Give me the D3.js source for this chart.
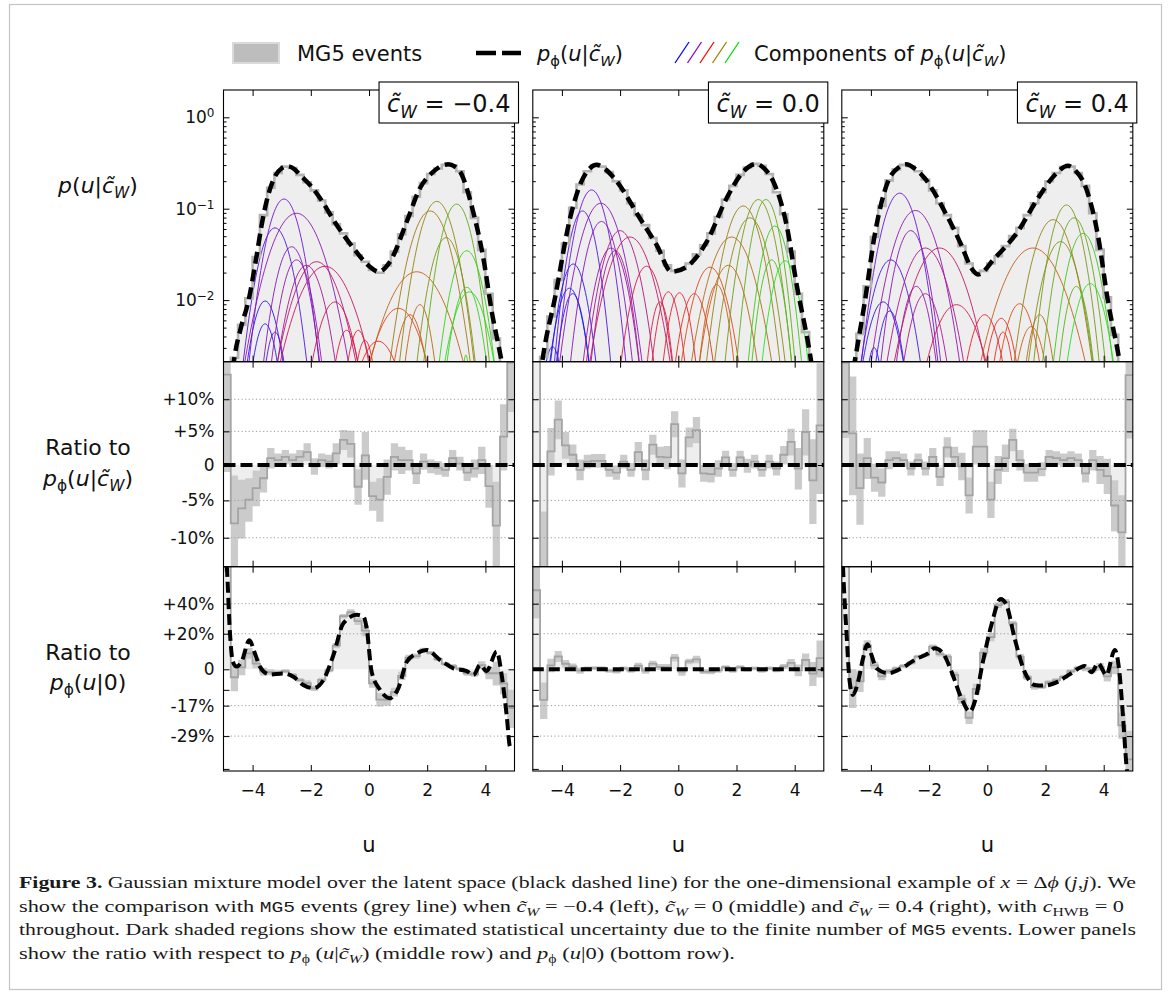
<!DOCTYPE html>
<html><head><meta charset="utf-8">
<script src="https://cdn.jsdelivr.net/npm/d3@7"></script>
<style>
body{margin:0;background:#fff}
svg{display:block}
text{font-family:"DejaVu Sans",sans-serif}
</style></head>
<body><svg id="c" width="1171" height="994"></svg>
<script>
// ---------------- DATA ----------------
const cwLabels = ["−0.4", "0.0", "0.4"];
const xTickValues = [-4, -2, 0, 2, 4];
const xTickLabels = ["−4", "−2", "0", "2", "4"];
const topTickValues = [1, 0.1, 0.01];
const topTickExp = ["0", "−1", "−2"];
const midTickValues = [10, 5, 0, -5, -10];
const midTickLabels = ["+10%", "+5%", "0", "-5%", "-10%"];
const botTickValues = [40, 20, 0, -17, -29];
const botTickLabels = ["+40%", "+20%", "0", "-17%", "-29%"];
const botMinorTicks = [-10, -40];

// model density p_phi(u|c_W): [u, log10 p]
const modelNeg = [[-4.75,-2.95],[-4.62,-2.62],[-4.4,-2.3],[-4.15,-2.02],[-3.86,-1.51],[-3.69,-1.18],[-3.52,-0.92],[-3.29,-0.686],[-3.0,-0.558],[-2.8,-0.535],[-2.55,-0.57],[-2.37,-0.631],[-2.0,-0.75],[-1.68,-0.886],[-1.11,-1.178],[-0.54,-1.43],[0.03,-1.635],[0.32,-1.69],[0.72,-1.58],[1.30,-1.14],[1.75,-0.777],[2.21,-0.595],[2.5,-0.53],[2.73,-0.515],[2.95,-0.54],[3.13,-0.595],[3.58,-1.033],[3.93,-1.543],[4.22,-2.127],[4.56,-2.68],[4.7,-2.95]];
const modelZero = [[-4.75,-2.85],[-4.64,-2.60],[-4.24,-1.98],[-3.72,-1.105],[-3.38,-0.74],[-3.1,-0.58],[-2.80,-0.52],[-2.5,-0.57],[-2.12,-0.70],[-1.32,-1.105],[-0.74,-1.40],[-0.23,-1.69],[0.29,-1.635],[0.98,-1.36],[1.66,-0.886],[2.23,-0.595],[2.69,-0.51],[2.95,-0.56],[3.26,-0.70],[3.72,-1.178],[4.07,-1.835],[4.53,-2.60],[4.65,-2.85]];
const modelPos = [[-4.7,-2.95],[-4.56,-2.68],[-4.21,-2.02],[-3.87,-1.29],[-3.41,-0.70],[-3.05,-0.55],[-2.78,-0.515],[-2.5,-0.56],[-2.15,-0.667],[-1.46,-1.033],[-0.89,-1.40],[-0.55,-1.65],[-0.32,-1.72],[0.25,-1.543],[1.05,-1.25],[1.74,-0.886],[2.32,-0.631],[2.77,-0.53],[3.05,-0.59],[3.35,-0.74],[3.80,-1.29],[4.15,-2.02],[4.55,-2.68],[4.68,-2.95]];

// MG5 histogram, 40 bins of width 0.25 from -5: log10 density
const histNeg = [-3.2,-2.63,-2.27,-1.98,-1.53,-1.07,-0.77,-0.61,-0.54,-0.555,-0.63,-0.71,-0.80,-0.91,-1.04,-1.17,-1.27,-1.38,-1.51,-1.58,-1.67,-1.70,-1.62,-1.47,-1.28,-1.08,-0.87,-0.72,-0.62,-0.56,-0.52,-0.525,-0.59,-0.82,-1.10,-1.45,-1.93,-2.42,-2.90,-3.5];
const histZero = [-3.3,-2.62,-2.18,-1.78,-1.38,-0.99,-0.735,-0.59,-0.525,-0.54,-0.60,-0.70,-0.80,-0.94,-1.07,-1.18,-1.32,-1.46,-1.62,-1.68,-1.66,-1.60,-1.50,-1.40,-1.27,-1.09,-0.90,-0.75,-0.63,-0.55,-0.51,-0.53,-0.62,-0.82,-1.06,-1.47,-1.93,-2.35,-2.80,-3.4];
const histPos = [-3.4,-2.80,-2.37,-1.85,-1.31,-0.97,-0.69,-0.57,-0.52,-0.535,-0.59,-0.68,-0.80,-0.94,-1.07,-1.21,-1.41,-1.60,-1.70,-1.68,-1.60,-1.52,-1.41,-1.30,-1.21,-1.07,-0.94,-0.82,-0.70,-0.61,-0.545,-0.54,-0.61,-0.75,-1.05,-1.45,-1.97,-2.38,-2.90,-3.5];

// ratio MG5 / p_phi(u|c_W) in percent, with statistical uncertainty
const ratioMidNeg = [14,-8.1,-6.1,-4.9,-3.3,-1.9,1.0,0.7,1.2,0.7,1.2,1.9,-0.2,0.7,0.5,1.7,3.7,3.1,-3.1,1.4,-4.4,-4.9,-1.7,1.2,0.7,0.7,-1.2,0.5,-0.2,-0.4,-0.7,1.0,0.2,-1.1,-0.5,0.7,-3.0,-8.4,4.2,16];
const errMidNeg = [15,6.6,4,3,2.5,2,1.5,1,1,1,1,1.3,1.2,1,1,1.5,1.5,2,2.5,3.5,2,3,2.5,2,2,1.5,1.5,1.2,1,1,1,1.2,1,1.2,1.3,2,3,6,5,8];
const ratioMidZero = [50,-14.5,2,6.8,2.9,1.5,-0.7,0.5,0.6,0.6,-0.7,-1.1,0.5,-0.7,1.9,-0.7,3.0,1.2,1.1,6.1,-1.2,4.1,5.2,-1.2,-1.3,-0.5,1.1,-0.7,1.1,-0.1,0.5,-0.7,0.5,-0.5,1.5,3.4,-0.5,4.9,-2.2,5.9];
const errMidZero = [20,8,3.5,3,2,1.5,1.5,1,1,1,1,1,1,1,1.5,1.5,1.5,1.5,1.7,2,2,1.5,2,1.2,1.2,1.2,1,1,1,1,1,1,1,1,1.3,2,3,3.5,6,10];
const ratioMidPos = [16,4.7,-3.3,1.0,-1.8,-2.5,0.7,1.0,0.7,-0.5,0.7,-0.5,1.2,-1.7,2.6,1.2,-0.2,-4.3,2.7,2.7,-4.9,-0.7,1.0,3.7,0.7,-1.1,-1.1,-0.6,1.2,1.0,0.7,1.0,0.7,-1.2,0.7,-0.7,-1.6,-5.7,-9.3,13.9];
const errMidPos = [12,9,5,3,2,2,1.3,1,1,1,1,1,1.3,1.3,1.5,1.5,2,2.5,2.5,2.5,2.5,2,2,1.7,1.5,1.3,1.3,1,1,1,1,1,1,1.3,1.5,2,2.5,3.5,5,10];

// ratio MG5 / p_phi(u|0) in percent
const ratioBotNeg = [80,-4,1,8.5,3,-1.2,-1.5,-1.6,-1,-2.9,-5.4,-6.8,-9.3,-5.3,-0.5,12.9,31.3,34,28,22,-7,-14.4,-14.5,-11,-3.3,6.2,7,10.5,8.8,5.3,2.8,1.6,0.2,-2.1,-2.5,2.2,-2,-2,-7,-18];
const ratioBotZero = [50,-14.5,2,6.8,2.9,1.5,-0.7,0.5,0.6,0.6,-0.7,-1.1,0.5,-0.7,1.9,-0.7,3.0,1.2,1.1,6.1,-1.2,4.1,5.2,-1.2,-1.3,-0.5,1.1,-0.7,1.1,-0.1,0.5,-0.7,0.5,-0.5,1.5,3.4,-0.5,4.9,-2.2,5.9];
const ratioBotPos = [90,-9,-6,13,2,-3.5,-1.1,0.5,1.7,3.3,6.7,7.5,12.3,8.1,6.7,-2.8,-14.2,-22,-9.6,8.9,18,39,41.4,26.5,6.7,-4,-8.7,-8.6,-6.4,-5.4,-3.8,-1,0.7,0.3,-0.3,1.3,-3.6,1,-25,-37];

// p_phi(u|c_W) / p_phi(u|0) in percent: [u, percent]
const curveBotNeg = [[-5,100],[-4.97,90],[-4.89,71],[-4.78,21],[-4.68,4],[-4.55,1.4],[-4.38,4],[-4.11,16],[-3.92,8.5],[-3.75,1.4],[-3.41,-2.6],[-2.95,-2.1],[-2.60,-3.7],[-2.26,-7.7],[-1.91,-9.2],[-1.57,-5.4],[-1.22,7.7],[-0.88,26.6],[-0.42,32.2],[-0.19,31],[-0.08,23.4],[0.09,-1.2],[0.38,-10],[0.72,-13.8],[1.01,-9.2],[1.30,4],[1.64,8.5],[1.98,10.4],[2.44,4.9],[2.90,0.5],[3.36,-0.9],[3.59,-2.9],[3.82,2.2],[4.04,-0.9],[4.39,9.5],[4.56,-2.9],[4.73,-20.9],[4.85,-32.8],[4.96,-32]];
const curveBotZero = [[-5,0],[5,0]];
const curveBotPos = [[-5,100],[-4.96,70],[-4.84,21],[-4.73,-6.1],[-4.62,-12.3],[-4.44,-6.1],[-4.27,5.8],[-4.12,13.7],[-3.98,7.6],[-3.81,0.5],[-3.41,-2.0],[-2.95,0.5],[-2.50,4.9],[-2.04,8.5],[-1.81,11.4],[-1.52,8.5],[-1.23,-1.2],[-0.89,-13.8],[-0.60,-19.5],[-0.43,-15.3],[-0.15,4],[0.14,25.5],[0.46,43.5],[0.66,39],[0.94,17.2],[1.28,-1.2],[1.63,-7.7],[1.97,-8],[2.43,-6.1],[2.89,-2],[3.35,1.7],[3.58,-1.5],[3.81,3.1],[4.09,-2.9],[4.38,10.4],[4.55,-2.9],[4.66,-21],[4.78,-38.8],[4.84,-44],[4.9,-50]];

// Gaussian components: [mean, sigma, log10 peak]
const compsNeg = [[-3.57,0.35,-2.01],[-3.57,0.30,-2.26],[-3.23,0.25,-2.35],[-3.23,0.42,-1.21],[-2.92,0.42,-0.894],[-2.49,0.65,-1.05],[-2.66,0.40,-1.416],[-2.49,0.38,-1.56],[-2.15,0.45,-1.62],[-1.80,0.60,-1.58],[-1.51,0.70,-1.63],[-1.17,0.45,-2.02],[-0.77,0.30,-2.33],[-0.37,0.28,-2.33],[-0.14,0.25,-2.44],[0.32,0.55,-2.45],[1.01,0.60,-2.09],[1.41,0.35,-2.16],[1.75,0.30,-2.05],[1.64,0.75,-1.69],[2.10,0.50,-1.025],[2.65,0.40,-1.317],[2.33,0.45,-0.92],[3.01,0.40,-0.95],[3.36,0.40,-1.46],[3.36,0.35,-1.86],[3.45,0.45,-1.91],[3.33,0.10,-2.60]];
const compsZero = [[-4.32,0.25,-2.51],[-3.74,0.35,-1.87],[-3.63,0.30,-1.93],[-3.61,0.35,-1.605],[-3.29,0.35,-1.025],[-2.98,0.40,-0.795],[-2.66,0.50,-0.94],[-2.64,0.40,-1.14],[-2.31,0.40,-1.43],[-2.17,0.35,-1.46],[-2.00,0.45,-1.24],[-1.66,0.55,-1.31],[-1.09,0.40,-1.63],[-0.63,0.25,-2.02],[-0.34,0.30,-1.91],[0.04,0.30,-1.92],[0.55,0.35,-1.93],[1.09,0.45,-1.64],[1.32,0.30,-1.83],[1.72,0.45,-1.62],[1.83,0.55,-1.31],[2.23,0.45,-0.97],[2.46,0.45,-1.10],[2.75,0.40,-0.90],[3.01,0.35,-0.90],[3.32,0.35,-1.19],[3.21,0.30,-1.56],[3.67,0.35,-1.57]];
const compsPos = [[-3.89,0.20,-2.52],[-3.58,0.40,-2.02],[-3.35,0.30,-2.12],[-3.32,0.45,-1.56],[-3.01,0.45,-0.83],[-2.47,0.55,-1.02],[-2.63,0.40,-1.24],[-2.44,0.35,-1.85],[-2.13,0.40,-1.93],[-2.13,0.55,-1.43],[-1.64,0.65,-1.43],[-1.06,0.60,-2.05],[-0.09,0.40,-2.16],[0.48,0.35,-2.20],[0.54,0.25,-2.35],[1.11,0.40,-2.04],[1.51,0.35,-2.29],[1.57,0.75,-1.43],[1.80,0.30,-2.16],[2.26,0.50,-1.12],[2.52,0.45,-1.36],[2.72,0.40,-0.96],[2.98,0.40,-1.10],[3.29,0.40,-1.27],[3.06,0.30,-1.85],[3.54,0.40,-1.82]];

const panels = [
  {label: cwLabels[0], model: modelNeg, hist: histNeg, rMid: ratioMidNeg, eMid: errMidNeg, rBot: ratioBotNeg, curve: curveBotNeg, comps: compsNeg},
  {label: cwLabels[1], model: modelZero, hist: histZero, rMid: ratioMidZero, eMid: errMidZero, rBot: ratioBotZero, curve: curveBotZero, comps: compsZero},
  {label: cwLabels[2], model: modelPos, hist: histPos, rMid: ratioMidPos, eMid: errMidPos, rBot: ratioBotPos, curve: curveBotPos, comps: compsPos}
];

// ---------------- LAYOUT ----------------
const uMin = -5, uMax = 5, binW = 0.25;
const colLeft = [223.5, 532.8, 841.8], pw = 291;
const rows = {top: [90, 361.7], mid: [361.7, 566.7], bot: [566.7, 771]};
const svg = d3.select("#c");
const defs = svg.append("defs");

svg.append("rect").attr("x", 9.5).attr("y", 4.5).attr("width", 1152).attr("height", 985)
  .attr("fill", "none").attr("stroke", "#c4c4c4").attr("stroke-width", 1.2);

const yTop = d3.scaleLog().domain([Math.pow(10, -2.674), Math.pow(10, 0.2987)]).range([rows.top[1], rows.top[0]]);
const yMid = d3.scaleLog().domain([0.8630, 1.1615]).range([rows.mid[1], rows.mid[0]]);
const yBot = d3.scaleLog().domain([0.5936, 1.6925]).range([rows.bot[1], rows.bot[0]]);
const pr = v => 1 + v / 100;

const compColor = d3.scaleLinear()
  .domain([-3.8, -2.9, -1.6, 0.3, 1.3, 2.1, 2.9, 3.6])
  .range(["#1414ff", "#7614d2", "#c81464", "#f01e1e", "#dc5014", "#a07814", "#6ea014", "#1ee61e"])
  .clamp(true);

function math(sel, parts, fs) {
  let cur = 0;
  parts.forEach(p => {
    const st = p[1] || "";
    const ts = sel.append("tspan").text(p[0]);
    if (st.includes("i")) ts.attr("font-style", "italic");
    if (st.includes("b")) ts.attr("font-weight", "bold");
    if (st.includes("m")) ts.attr("font-family", "'Liberation Mono', monospace").attr("font-size", fs * 0.88);
    let shift = 0;
    if (st.includes("s")) { shift = fs * 0.24; ts.attr("font-size", fs * 0.7); }
    if (shift !== cur) { ts.attr("dy", shift - cur); cur = shift; }
  });
  return sel;
}

const minorTop = [];
[0.001, 0.01, 0.1, 1].forEach(dec => d3.range(2, 10).forEach(m => {
  const v = m * dec; if (v > yTop.domain()[0] && v < yTop.domain()[1]) minorTop.push(v);
}));

function styleAxis(g, fs) {
  g.select(".domain").remove();
  g.attr("font-size", fs).attr("font-family", "'DejaVu Sans', sans-serif");
  g.selectAll("line").attr("stroke", "#000").attr("stroke-width", 1);
  g.selectAll("text").attr("fill", "#111");
}

panels.forEach((P, i) => {
  const x0 = colLeft[i];
  const gx = d3.scaleLinear().domain([uMin, uMax]).range([x0, x0 + pw]);
  Object.keys(rows).forEach(r => {
    defs.append("clipPath").attr("id", `cl-${r}-${i}`).append("rect")
      .attr("x", x0).attr("y", rows[r][0]).attr("width", pw).attr("height", rows[r][1] - rows[r][0]);
  });
  const binPts = arr => { const a = arr.map((v, k) => [uMin + k * binW, v]); a.push([uMax, arr[arr.length - 1]]); return a; };

  // ---------- TOP ROW ----------
  const gt = svg.append("g").attr("clip-path", `url(#cl-top-${i})`);
  const hp = binPts(P.hist);
  gt.append("path").datum(hp)
    .attr("d", d3.area().curve(d3.curveStepAfter).x(d => gx(d[0])).y0(rows.top[1]).y1(d => yTop(Math.pow(10, d[1]))))
    .attr("fill", "#eeeeee");
  P.comps.forEach(c => {
    const pts = d3.range(-4, 4.001, 0.1).map(t => [c[0] + t * c[1], Math.pow(10, c[2]) * Math.exp(-t * t / 2)]);
    gt.append("path").datum(pts)
      .attr("d", d3.line().x(d => gx(d[0])).y(d => yTop(d[1])))
      .attr("fill", "none").attr("stroke", compColor(c[0])).attr("stroke-width", 0.9);
  });
  gt.append("path").datum(hp)
    .attr("d", d3.line().curve(d3.curveStepAfter).x(d => gx(d[0])).y(d => yTop(Math.pow(10, d[1]))))
    .attr("fill", "none").attr("stroke", "#b4b4b4").attr("stroke-width", 2.6);
  gt.append("path").datum(P.model)
    .attr("d", d3.line().curve(d3.curveMonotoneX).x(d => gx(d[0])).y(d => yTop(Math.pow(10, d[1]))))
    .attr("fill", "none").attr("stroke", "#000").attr("stroke-width", 4.5).attr("stroke-dasharray", "12,6");

  // ---------- MIDDLE ROW ----------
  function ratioPanel(rowKey, yS, ratios, errs, gridVals) {
    const g = svg.append("g").attr("clip-path", `url(#cl-${rowKey}-${i})`);
    const rp = binPts(ratios), ep = binPts(errs);
    const pts = rp.map((d, k) => ({u: d[0], v: d[1], e: ep[k][1]}));
    g.append("path").datum(pts)
      .attr("d", d3.area().curve(d3.curveStepAfter).x(d => gx(d.u)).y0(yS(1)).y1(d => yS(pr(d.v))))
      .attr("fill", "#eeeeee");
    g.append("path").datum(pts)
      .attr("d", d3.area().curve(d3.curveStepAfter).x(d => gx(d.u)).y0(d => yS(pr(d.v - d.e))).y1(d => yS(pr(d.v + d.e))))
      .attr("fill", "#cbcbcb");
    g.append("path").datum(pts)
      .attr("d", d3.line().curve(d3.curveStepAfter).x(d => gx(d.u)).y(d => yS(pr(d.v))))
      .attr("fill", "none").attr("stroke", "#a4a4a4").attr("stroke-width", 1.8);
    gridVals.filter(v => v !== 0).forEach(v => {
      g.append("line").attr("x1", x0).attr("x2", x0 + pw).attr("y1", yS(pr(v))).attr("y2", yS(pr(v)))
        .attr("stroke", "#9a9a9a").attr("stroke-width", 1).attr("stroke-dasharray", "1.2,2.4");
    });
    return g;
  }
  const gm = ratioPanel("mid", yMid, P.rMid, P.eMid, midTickValues);
  gm.append("line").attr("x1", x0).attr("x2", x0 + pw).attr("y1", yMid(1)).attr("y2", yMid(1))
    .attr("stroke", "#000").attr("stroke-width", 4).attr("stroke-dasharray", "12,5");

  // ---------- BOTTOM ROW ----------
  const gb = ratioPanel("bot", yBot, P.rBot, P.eMid, botTickValues);
  gb.append("path").datum(P.curve)
    .attr("d", d3.line().curve(d3.curveMonotoneX).x(d => gx(d[0])).y(d => yBot(pr(d[1]))))
    .attr("fill", "none").attr("stroke", "#000").attr("stroke-width", 4).attr("stroke-dasharray", "11,5");

  // ---------- FRAMES & AXES ----------
  Object.keys(rows).forEach(r => {
    svg.append("rect").attr("x", x0).attr("y", rows[r][0]).attr("width", pw).attr("height", rows[r][1] - rows[r][0])
      .attr("fill", "none").attr("stroke", "#000").attr("stroke-width", 1.1);
    svg.append("g").attr("transform", `translate(0,${rows[r][0]})`)
      .call(d3.axisTop(gx).tickValues(xTickValues).tickSize(-6).tickFormat("")).call(g => styleAxis(g, 17));
    const isBot = r === "bot";
    svg.append("g").attr("transform", `translate(0,${rows[r][1]})`)
      .call(d3.axisBottom(gx).tickValues(xTickValues).tickSize(-6).tickPadding(13)
        .tickFormat((d, j) => isBot ? xTickLabels[j] : ""))
      .call(g => styleAxis(g, 17));
  });

  const show = i === 0;
  // top row y axis (log)
  const ayl = svg.append("g").attr("transform", `translate(${x0},0)`)
    .call(d3.axisLeft(yTop).tickValues(topTickValues).tickSize(-6).tickPadding(9).tickFormat(() => ""))
    .call(g => styleAxis(g, 17));
  if (show) {
    ayl.selectAll(".tick text").each(function (d, j) {
      const t = d3.select(this).attr("dy", "0.32em");
      t.append("tspan").text("10");
      t.append("tspan").text(topTickExp[j]).attr("font-size", 12).attr("dy", "-0.5em");
    });
  }
  svg.append("g").attr("transform", `translate(${x0},0)`)
    .call(d3.axisLeft(yTop).tickValues(minorTop).tickSize(-3).tickFormat("")).call(g => styleAxis(g, 17));
  svg.append("g").attr("transform", `translate(${x0 + pw},0)`)
    .call(d3.axisRight(yTop).tickValues(topTickValues).tickSize(-6).tickFormat("")).call(g => styleAxis(g, 17));
  svg.append("g").attr("transform", `translate(${x0 + pw},0)`)
    .call(d3.axisRight(yTop).tickValues(minorTop).tickSize(-3).tickFormat("")).call(g => styleAxis(g, 17));

  // middle row y axis
  [[yMid, midTickValues, midTickLabels, []], [yBot, botTickValues, botTickLabels, botMinorTicks]].forEach(([yS, vals, labs, minors]) => {
    const ratios = vals.map(pr);
    svg.append("g").attr("transform", `translate(${x0},0)`)
      .call(d3.axisLeft(yS).tickValues(ratios).tickSize(-6).tickPadding(9).tickFormat((d, j) => show ? labs[j] : ""))
      .call(g => styleAxis(g, 17));
    if (minors.length) svg.append("g").attr("transform", `translate(${x0},0)`)
      .call(d3.axisLeft(yS).tickValues(minors.map(pr)).tickSize(-6).tickFormat("")).call(g => styleAxis(g, 17));
    svg.append("g").attr("transform", `translate(${x0 + pw},0)`)
      .call(d3.axisRight(yS).tickValues(ratios).tickSize(-6).tickFormat("")).call(g => styleAxis(g, 17));
  });

  // x label
  svg.append("text").attr("x", x0 + pw / 2).attr("y", 852).attr("text-anchor", "middle")
    .attr("font-size", 21).attr("fill", "#111").text("u");

  // c_W label box
  const bx = svg.append("g");
  const bt = bx.append("text").attr("x", x0 + pw - 4).attr("y", 112).attr("text-anchor", "end")
    .attr("font-size", 24).attr("fill", "#111");
  math(bt, [["c\u0303", "i"], ["W", "is"], [" = ", ""], [P.label, ""]], 24);
  const bb = bt.node().getBBox();
  bx.insert("rect", "text").attr("x", bb.x - 8).attr("y", 82).attr("width", bb.width + 16).attr("height", 41)
    .attr("fill", "#fff").attr("stroke", "#000").attr("stroke-width", 1.1);
});

// ---------------- ROW LABELS ----------------
function label(x, y, parts, fs) {
  const t = svg.append("text").attr("x", x).attr("y", y).attr("text-anchor", "middle")
    .attr("font-size", fs).attr("fill", "#111");
  return math(t, parts, fs);
}
label(98, 193, [["p", "i"], ["(", ""], ["u", "i"], ["|", ""], ["c\u0303", "i"], ["W", "is"], [")", ""]], 22);
label(88, 455, [["Ratio to", ""]], 22);
label(88, 486, [["p", "i"], ["ϕ", "s"], ["(", ""], ["u", "i"], ["|", ""], ["c\u0303", "i"], ["W", "is"], [")", ""]], 22);
label(88, 660, [["Ratio to", ""]], 22);
label(88, 690, [["p", "i"], ["ϕ", "s"], ["(", ""], ["u", "i"], ["|0)", ""]], 22);

// ---------------- LEGEND ----------------
const lg = svg.append("g");
lg.append("rect").attr("x", 233).attr("y", 43).attr("width", 46).attr("height", 20)
  .attr("fill", "#bdbdbd").attr("stroke", "#dadada").attr("stroke-width", 2);
lg.append("text").attr("x", 297).attr("y", 61).attr("font-size", 21).attr("fill", "#111").text("MG5 events");
lg.append("line").attr("x1", 476).attr("x2", 521).attr("y1", 53).attr("y2", 53)
  .attr("stroke", "#000").attr("stroke-width", 4.5).attr("stroke-dasharray", "20,6");
math(lg.append("text").attr("x", 537).attr("y", 61).attr("font-size", 21).attr("fill", "#111"),
  [["p", "i"], ["ϕ", "s"], ["(", ""], ["u", "i"], ["|", ""], ["c\u0303", "i"], ["W", "is"], [")", ""]], 21);
const legendColors = ["#0000ff", "#8a00cc", "#ff0000", "#a08000", "#00dd00"];
legendColors.forEach((c, k) => {
  lg.append("line").attr("x1", 675 + k * 12.5).attr("y1", 63).attr("x2", 689 + k * 12.5).attr("y2", 42)
    .attr("stroke", c).attr("stroke-width", 1.3);
});
math(lg.append("text").attr("x", 754).attr("y", 61).attr("font-size", 21).attr("fill", "#111"),
  [["Components of ", ""], ["p", "i"], ["ϕ", "s"], ["(", ""], ["u", "i"], ["|", ""], ["c\u0303", "i"], ["W", "is"], [")", ""]], 21);

// ---------------- CAPTION ----------------
const capLines = [
  {y: 888, w: 1117, parts: [["Figure 3.", "b"], [" Gaussian mixture model over the latent space (black dashed line) for the one-dimensional example of ", ""], ["x", "i"], [" = Δ", ""], ["ϕ", "i"], [" (", ""], ["j", "i"], [",", ""], ["j", "i"], ["). We", ""]]},
  {y: 911.5, w: 1105, parts: [["show the comparison with ", ""], ["MG5", "m"], [" events (grey line) when ", ""], ["c\u0303", "i"], ["W", "is"], [" = −0.4 (left), ", ""], ["c\u0303", "i"], ["W", "is"], [" = 0 (middle) and ", ""], ["c\u0303", "i"], ["W", "is"], [" = 0.4 (right), with ", ""], ["c", "i"], ["HWB", "s"], [" = 0", ""]]},
  {y: 935, w: 1117, parts: [["throughout. Dark shaded regions show the estimated statistical uncertainty due to the finite number of ", ""], ["MG5", "m"], [" events. Lower panels", ""]]},
  {y: 958.5, w: 716, parts: [["show the ratio with respect to ", ""], ["p", "i"], ["ϕ", "s"], [" (", ""], ["u", "i"], ["|", ""], ["c\u0303", "i"], ["W", "is"], [") (middle row) and ", ""], ["p", "i"], ["ϕ", "s"], [" (", ""], ["u", "i"], ["|0) (bottom row).", ""]]}
];
capLines.forEach(L => {
  const t = svg.append("text").attr("x", 19).attr("y", L.y).attr("font-size", 17.5)
    .attr("fill", "#1a1a1a").style("font-family", "'Liberation Serif', serif")
    .attr("textLength", L.w).attr("lengthAdjust", "spacingAndGlyphs");
  math(t, L.parts, 17.5);
});
</script>
</body></html>
